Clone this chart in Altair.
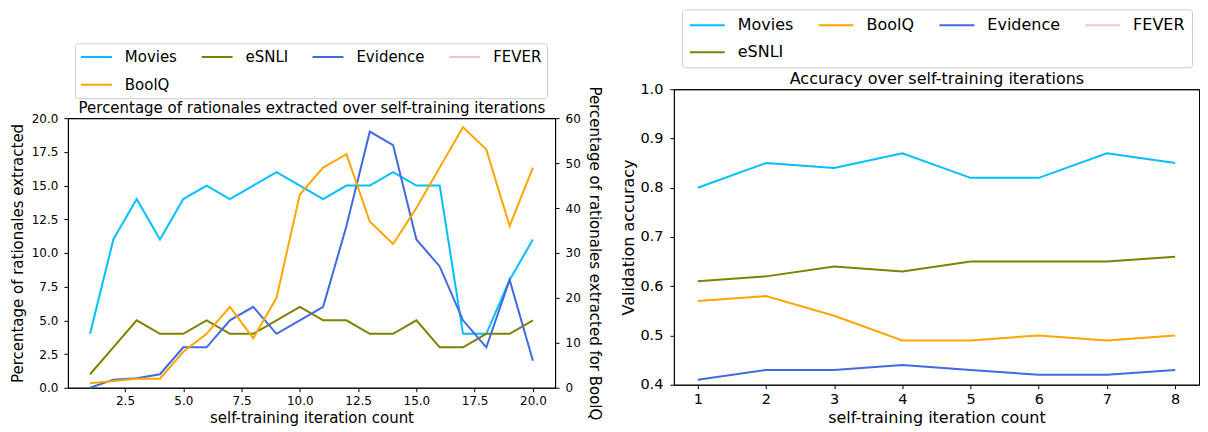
import altair as alt
import pandas as pd

# ---------------- data ----------------
iters_left = list(range(1, 21))
movies_pct = [4, 11, 14, 11, 14, 15, 14, 15, 16, 15, 14, 15, 15, 16, 15, 15, 4, 4, 8, 11]
esnli_pct = [1, 3, 5, 4, 4, 5, 4, 4, 5, 6, 5, 5, 4, 4, 5, 3, 3, 4, 4, 5]
evidence_pct = [0, 0.6, 0.7, 1, 3, 3, 5, 6, 4, 5, 6, 12, 19, 18, 11, 9, 5, 3, 8, 2]
boolq_pct = [1, 1.5, 2, 2, 8, 12, 18, 11, 20, 43, 49, 52, 37, 32, 40, 49, 58, 53, 36, 49]

iters_right = list(range(1, 9))
movies_acc = [0.80, 0.85, 0.84, 0.87, 0.82, 0.82, 0.87, 0.85]
boolq_acc = [0.57, 0.58, 0.54, 0.49, 0.49, 0.50, 0.49, 0.50]
evidence_acc = [0.41, 0.43, 0.43, 0.44, 0.43, 0.42, 0.42, 0.43]
esnli_acc = [0.61, 0.62, 0.64, 0.63, 0.65, 0.65, 0.65, 0.66]

left_order = ["Movies", "eSNLI", "Evidence", "FEVER", "BoolQ"]
right_order = ["Movies", "BoolQ", "Evidence", "FEVER", "eSNLI"]
palette = {"Movies": "#00BFFF", "eSNLI": "#808000", "Evidence": "#4169E1",
           "FEVER": "#FFC0CB", "BoolQ": "#FFA500"}

x_ticks_left = [2.5, 5.0, 7.5, 10.0, 12.5, 15.0, 17.5, 20.0]
y_ticks_left = [0, 2.5, 5, 7.5, 10, 12.5, 15, 17.5, 20]
y_ticks_boolq = [0, 10, 20, 30, 40, 50, 60]
x_ticks_right = [1, 2, 3, 4, 5, 6, 7, 8]
y_ticks_right = [0.4, 0.5, 0.6, 0.7, 0.8, 0.9, 1.0]

left_title = "Percentage of rationales extracted over self-training iterations"
right_title = "Accuracy over self-training iterations"

# ---------------- frames ----------------
rows = []
for name, vals in [("Movies", movies_pct), ("eSNLI", esnli_pct), ("Evidence", evidence_pct)]:
    for i, v in zip(iters_left, vals):
        rows.append({"iteration": i, "value": v, "series": name})
left_df = pd.DataFrame(rows)
boolq_df = pd.DataFrame({"iteration": iters_left, "value": boolq_pct, "series": "BoolQ"})

rows = []
for name, vals in [("Movies", movies_acc), ("BoolQ", boolq_acc),
                   ("Evidence", evidence_acc), ("eSNLI", esnli_acc)]:
    for i, v in zip(iters_right, vals):
        rows.append({"iteration": i, "accuracy": v, "series": name})
right_df = pd.DataFrame(rows)

FONT = "DejaVu Sans"

# ---------------- left panel ----------------
left_legend = alt.Legend(
    title=None, orient="none", legendX=7, legendY=-75, direction="horizontal",
    columns=4, gridAlign="each", symbolType="M-2.067,0H2.067", symbolSize=225,
    symbolOffset=8, symbolStrokeWidth=2, labelFontSize=15, labelOffset=20,
    columnPadding=19, rowPadding=11, padding=5, strokeColor="#cccccc",
    fillColor="white", cornerRadius=3, labelColor="black", labelFont=FONT,
)
left_color = alt.Color(
    "series:N",
    scale=alt.Scale(domain=left_order, range=[palette[s] for s in left_order]),
    legend=left_legend,
)
x_left_scale = alt.Scale(domain=[0.05, 20.95], nice=False, zero=False)

l1 = alt.Chart(left_df).mark_line(strokeWidth=2).encode(
    x=alt.X("iteration:Q", scale=x_left_scale,
            axis=alt.Axis(values=x_ticks_left, format=".1f",
                          title="self-training iteration count",
                          labelFontSize=12, titleFontSize=15, tickSize=4, labelPadding=4,
                          titlePadding=4, labelFlush=False)),
    y=alt.Y("value:Q", scale=alt.Scale(domain=[0, 20], nice=False),
            axis=alt.Axis(values=y_ticks_left, format=".1f",
                          title="Percentage of rationales extracted",
                          labelFontSize=12, titleFontSize=15, tickSize=4,
                          labelPadding=6, titlePadding=6)),
    color=left_color,
)
l2 = alt.Chart(boolq_df).mark_line(strokeWidth=2).encode(
    x=alt.X("iteration:Q", scale=x_left_scale,
            axis=alt.Axis(orient="top", labels=False, ticks=False, title=left_title,
                          titleFontSize=15, titlePadding=3)),
    y=alt.Y("value:Q", scale=alt.Scale(domain=[0, 60], nice=False),
            axis=alt.Axis(orient="right", values=y_ticks_boolq, format="d",
                          title="Percentage of rationales extracted for BoolQ",
                          labelFontSize=12, titleFontSize=15, tickSize=4,
                          labelPadding=6, titlePadding=6)),
    color=left_color,
)
left = alt.layer(l1, l2).resolve_scale(y="independent").resolve_axis(
    x="independent"
).properties(width=488, height=270)

spacer = alt.Chart(pd.DataFrame({"a": [0]})).mark_point(opacity=0).encode(
    x=alt.value(0), y=alt.value(0)
).properties(width=488, height=29, view=alt.ViewBackground(stroke="transparent"))

# ---------------- right panel ----------------
right_legend = alt.Legend(
    title=None, orient="none", legendX=8, legendY=-80, direction="horizontal",
    columns=4, gridAlign="each", symbolType="M-2.1875,0H2.1875", symbolSize=256,
    symbolOffset=9.5, symbolStrokeWidth=2, labelFontSize=16, labelOffset=21.5,
    columnPadding=21, rowPadding=10, padding=7, strokeColor="#cccccc",
    fillColor="white", cornerRadius=3, labelColor="black", labelFont=FONT,
)
x_right_scale = alt.Scale(domain=[0.65, 8.35], nice=False, zero=False)
y_right = alt.Y("accuracy:Q", scale=alt.Scale(domain=[0.4, 1.0], nice=False, zero=False),
                axis=alt.Axis(values=y_ticks_right, format=".1f", title="Validation accuracy",
                              labelFontSize=14.5, titleFontSize=16, tickSize=4, labelPadding=7,
                              titlePadding=3))
r1 = alt.Chart(right_df).mark_line(strokeWidth=2).encode(
    x=alt.X("iteration:Q", scale=x_right_scale,
            axis=alt.Axis(values=x_ticks_right, format="d", title="self-training iteration count",
                          labelFontSize=14.5, titleFontSize=16, tickSize=4, labelPadding=4,
                          titlePadding=3)),
    y=y_right,
    color=alt.Color("series:N",
                    scale=alt.Scale(domain=right_order, range=[palette[s] for s in right_order]),
                    legend=right_legend),
)
r2 = alt.Chart(right_df).mark_point(opacity=0).encode(
    x=alt.X("iteration:Q", scale=x_right_scale,
            axis=alt.Axis(orient="top", labels=False, ticks=False, title=right_title,
                          titleFontSize=16, titlePadding=3)),
    y=y_right,
)
right = alt.layer(r1, r2).resolve_axis(x="independent").properties(width=526, height=296)

left_col = alt.vconcat(spacer, left, spacing=0, bounds="flush").resolve_scale(color="independent")

chart = alt.hconcat(left_col, right, spacing=18).resolve_scale(
    color="independent"
).properties(
    padding={"left": 1, "top": 0, "right": 0, "bottom": 0}
).configure(font=FONT).configure_axis(
    grid=False, domainColor="black", tickColor="black", labelColor="black",
    titleColor="black", titleFontWeight="normal", labelFont=FONT, titleFont=FONT,
).configure_view(stroke="black", strokeWidth=1)

chart.save("out.html", embed_options={"renderer": "svg", "actions": False})
